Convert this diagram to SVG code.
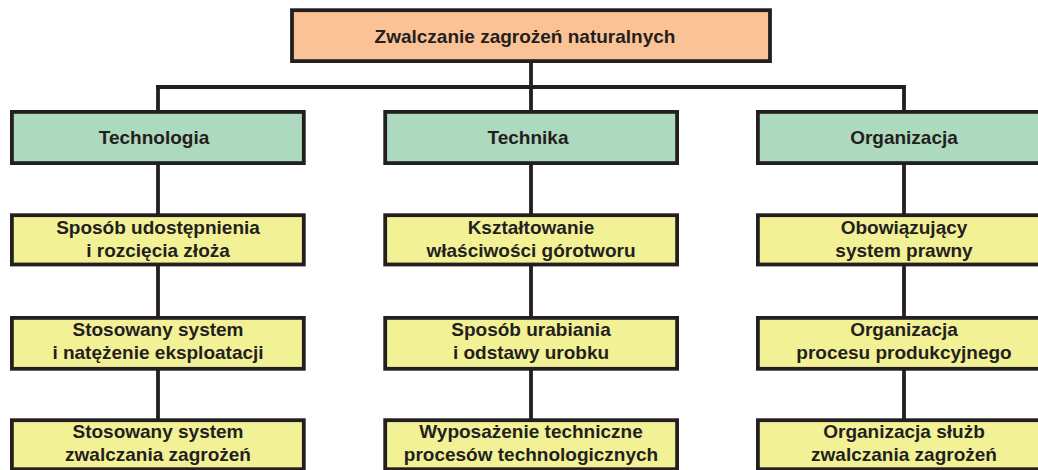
<svg xmlns="http://www.w3.org/2000/svg" width="1038" height="470" viewBox="0 0 1038 470">
<style>
.box{stroke:#231f20;stroke-width:3.8}
.top{fill:#fbc296}
.grn{fill:#add9be}
.yel{fill:#f3f196}
.t{font-family:"Liberation Sans",Arial,sans-serif;font-weight:bold;font-size:19px;fill:#231f20;text-anchor:middle}
.ln{stroke:#231f20;stroke-width:3.8;fill:none}
</style>
<rect width="1038" height="470" fill="#ffffff"/>
<g id="connectors">
<line class="ln" x1="531" y1="62" x2="531" y2="87"/>
<line class="ln" x1="156" y1="87" x2="906" y2="87"/>
<line class="ln" x1="158" y1="87" x2="158" y2="112"/>
<line class="ln" x1="531" y1="87" x2="531" y2="112"/>
<line class="ln" x1="904" y1="87" x2="904" y2="112"/>
<line class="ln" x1="158" y1="164" x2="158" y2="215"/>
<line class="ln" x1="531" y1="164" x2="531" y2="215"/>
<line class="ln" x1="904" y1="164" x2="904" y2="215"/>
<line class="ln" x1="158" y1="265" x2="158" y2="318"/>
<line class="ln" x1="531" y1="265" x2="531" y2="318"/>
<line class="ln" x1="904" y1="265" x2="904" y2="318"/>
<line class="ln" x1="158" y1="369" x2="158" y2="420"/>
<line class="ln" x1="531" y1="369" x2="531" y2="420"/>
<line class="ln" x1="904" y1="369" x2="904" y2="420"/>
</g>
<g id="root">
<rect class="box top" x="292" y="10.2" width="478" height="50.9"/>
<text class="t" x="525" y="43.3">Zwalczanie zagrożeń naturalnych</text>
</g>
<g id="technologia">
<rect class="box grn" x="11.9" y="111.9" width="291.9" height="51.2"/>
<text class="t" x="154" y="144.3">Technologia</text>
</g>
<g id="technika">
<rect class="box grn" x="385.2" y="111.9" width="291.9" height="51.2"/>
<text class="t" x="528" y="144.3">Technika</text>
</g>
<g id="organizacja">
<rect class="box grn" x="757.9" y="111.9" width="292" height="51.2"/>
<text class="t" x="904" y="144.3">Organizacja</text>
</g>
<g id="t1">
<rect class="box yel" x="11.9" y="215.2" width="291.9" height="49.3"/>
<text class="t" x="158" y="234.3">Sposób udostępnienia</text>
<text class="t" x="158" y="256.7">i rozcięcia złoża</text>
</g>
<g id="t2">
<rect class="box yel" x="11.9" y="317.9" width="291.9" height="50.9"/>
<text class="t" x="158" y="336">Stosowany system</text>
<text class="t" x="158" y="358.5">i natężenie eksploatacji</text>
</g>
<g id="t3">
<rect class="box yel" x="11.9" y="420.2" width="291.9" height="49"/>
<text class="t" x="158" y="438">Stosowany system</text>
<text class="t" x="158" y="460.8">zwalczania zagrożeń</text>
</g>
<g id="k1">
<rect class="box yel" x="385.2" y="215.2" width="291.9" height="49.3"/>
<text class="t" x="531" y="234.3">Kształtowanie</text>
<text class="t" x="531" y="256.7">właściwości górotworu</text>
</g>
<g id="k2">
<rect class="box yel" x="385.2" y="317.9" width="291.9" height="50.9"/>
<text class="t" x="531" y="336">Sposób urabiania</text>
<text class="t" x="531" y="358.5">i odstawy urobku</text>
</g>
<g id="k3">
<rect class="box yel" x="385.2" y="420.2" width="291.9" height="49"/>
<text class="t" x="531" y="438">Wyposażenie techniczne</text>
<text class="t" x="531" y="460.8">procesów technologicznych</text>
</g>
<g id="o1">
<rect class="box yel" x="757.9" y="215.2" width="292" height="49.3"/>
<text class="t" x="904" y="234.3">Obowiązujący</text>
<text class="t" x="904" y="256.7">system prawny</text>
</g>
<g id="o2">
<rect class="box yel" x="757.9" y="317.9" width="292" height="50.9"/>
<text class="t" x="904" y="336">Organizacja</text>
<text class="t" x="904" y="358.5">procesu produkcyjnego</text>
</g>
<g id="o3">
<rect class="box yel" x="757.9" y="420.2" width="292" height="49"/>
<text class="t" x="904" y="438">Organizacja służb</text>
<text class="t" x="904" y="460.8">zwalczania zagrożeń</text>
</g>
</svg>
